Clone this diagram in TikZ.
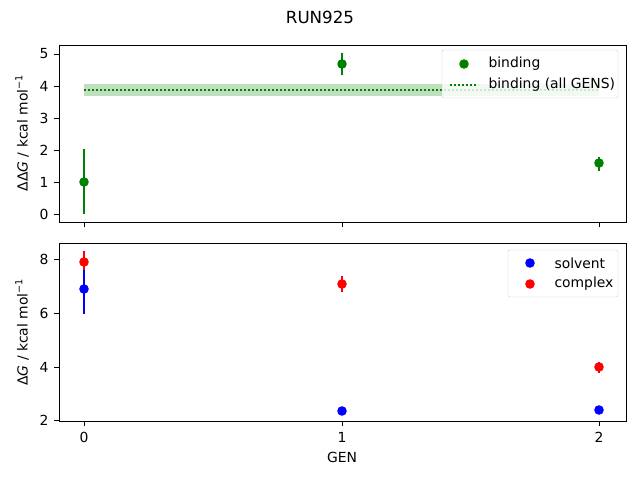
\documentclass[tikz,border=0pt]{standalone}
\usepackage{fontspec}
\setmainfont{DejaVu Sans}
\begin{document}
\begin{tikzpicture}[x=1pt,y=-1pt,
  ax/.style={line width=1.0pt},
  tk/.style={line width=1.0pt},
  eb/.style={line width=2.1pt},
  lbl/.style={font=\fontsize{13.9}{16}\selectfont},
  mk/.style={radius=4.8}]
\useasboundingbox (0,0) rectangle (640,480);
\definecolor{mg}{HTML}{008000}
\node[font=\fontsize{16.7}{19}\selectfont] (title) at (320,17) {RUN925};
% top axes
\fill[mg!25] (84,84) rectangle (599,96);
\draw[mg,line width=2pt,dotted] (84,90) -- (599,90);
\draw[mg,eb] (84,214)--(84,149) (342,53)--(342,75) (599,157)--(599,171);
\fill[mg] (84,182) circle[mk] (342,64) circle[mk] (599,163) circle[mk];
\draw[ax] (59,45) rectangle (626,222);
\foreach \v/\y in {0/214,1/182,2/150,3/118,4/86,5/54}{
  \draw[tk] (59,\y)--(54,\y);
  \node[lbl,anchor=east] at (52,\y) {\v};}
\foreach \x in {84,342,599} \draw[tk] (\x,222)--(\x,227);
\node[lbl,rotate=90] (yl1) at (22,133) {ΔΔ\textit{G} / kcal mol\textsuperscript{−1}};
% legend top
\draw[fill=white,fill opacity=0.8,draw=black!20,rounded corners=2] (442,50) rectangle (618,98);
\fill[mg] (464,64) circle[mk];
\node[lbl,anchor=west] at (485,64) {binding};
\draw[mg,line width=2pt,dotted] (450,85)--(478,85);
\node[lbl,anchor=west] at (485,85) {binding (all GENS)};
% bottom axes
\draw[blue,eb] (84,262)--(84,314);
\draw[red,eb] (84,251)--(84,270) (342,276)--(342,292) (599,362)--(599,373);
\fill[blue] (84,289) circle[mk] (342,411) circle[mk] (599,410) circle[mk];
\fill[red] (84,262) circle[mk] (342,284) circle[mk] (599,367) circle[mk];
\draw[ax] (59,243) rectangle (626,421);
\foreach \v/\y in {2/420,4/367,6/313,8/259}{
  \draw[tk] (59,\y)--(54,\y);
  \node[lbl,anchor=east] at (52,\y) {\v};}
\foreach \x/\t in {84/0,342/1,599/2}{
  \draw[tk] (\x,421)--(\x,426);
  \node[lbl] at (\x,437) {\t};}
\node[lbl] (xl) at (342,457) {GEN};
\node[lbl,rotate=90] (yl2) at (22,332) {Δ\textit{G} / kcal mol\textsuperscript{−1}};
% legend bottom
\draw[fill=white,fill opacity=0.8,draw=black!20,rounded corners=2] (508,250) rectangle (618,297);
\fill[blue] (530,263) circle[mk];
\node[lbl,anchor=west] at (551,263) {solvent};
\fill[red] (530,284) circle[mk];
\node[lbl,anchor=west] at (551,284) {complex};
\end{tikzpicture}
\end{document}
